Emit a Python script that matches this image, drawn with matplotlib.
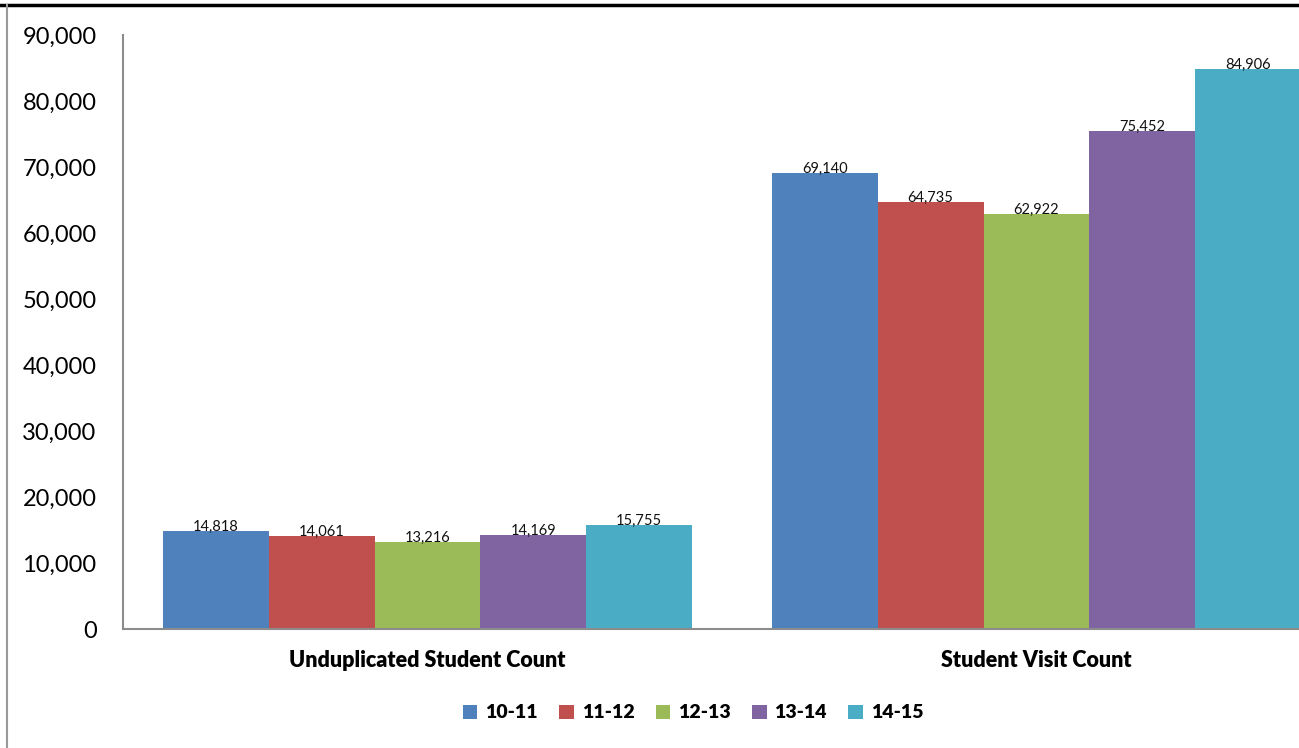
import matplotlib.pyplot as plt
from matplotlib.lines import Line2D
import numpy as np

# 数据
categories = ['Unduplicated Student Count', 'Student Visit Count']
years = ['10-11', '11-12', '12-13', '13-14', '14-15']
counts_10_11 = [14818, 69140]
counts_11_12 = [14061, 64735]
counts_12_13 = [13216, 62922]
counts_13_14 = [14169, 75452]
counts_14_15 = [15755, 84906]
series = [counts_10_11, counts_11_12, counts_12_13, counts_13_14, counts_14_15]
colors = ['#4F81BD', '#C0504D', '#9BBB59', '#8064A2', '#4BACC6']

plt.rcParams['font.family'] = ['Lato', 'DejaVu Sans']

fig = plt.figure(figsize=(12.99, 7.48), dpi=100)
W, H = 1299, 748
# 坐标轴右侧超出画布（原图被裁切）
ax = fig.add_axes([123 / W, 119 / H, (1341 - 123) / W, (629 - 35) / H])

x = np.arange(len(categories))
group_w = 0.869
bw = group_w / len(series)
for i, vals in enumerate(series):
    pos = x - group_w / 2 + bw * (i + 0.5)
    bars = ax.bar(pos, vals, width=bw, color=colors[i], label=years[i])
    for b, v in zip(bars, vals):
        ax.annotate(f'{v:,}', (b.get_x() + b.get_width() / 2, v),
                    xytext=(0, -2), textcoords='offset points',
                    ha='center', va='bottom', fontsize=10.5, color='#111111')

ax.set_xlim(-0.5, 1.5)
ax.set_ylim(0, 90000)
ax.set_yticks(np.arange(0, 90001, 10000))
ax.set_yticklabels([f'{t:,}' for t in range(0, 90001, 10000)], fontsize=17)
ax.tick_params(axis='y', length=0, pad=19)
ax.set_xticks(x)
ax.set_xticklabels(categories, fontsize=15.5, fontweight='heavy')
ax.tick_params(axis='x', length=0, pad=15)

for s in ['top', 'right']:
    ax.spines[s].set_visible(False)
for s in ['left', 'bottom']:
    ax.spines[s].set_color('#8c8c8c')
    ax.spines[s].set_linewidth(1.5)

leg = fig.legend(loc='center', bbox_to_anchor=(693 / W, 1 - 713 / H), ncol=5,
                 frameon=False, prop={'size': 14, 'weight': 'heavy'},
                 handlelength=0.75, handleheight=0.75, handletextpad=0.4,
                 columnspacing=1.1)

# 外框线
fig.add_artist(Line2D([0, 1], [1 - 5 / H, 1 - 5 / H], color='black', lw=2.5,
                      transform=fig.transFigure))
fig.add_artist(Line2D([7 / W, 7 / W], [0, 1 - 5 / H], color='#999999', lw=1.5,
                      transform=fig.transFigure))

fig.savefig('out.png', dpi=100)
